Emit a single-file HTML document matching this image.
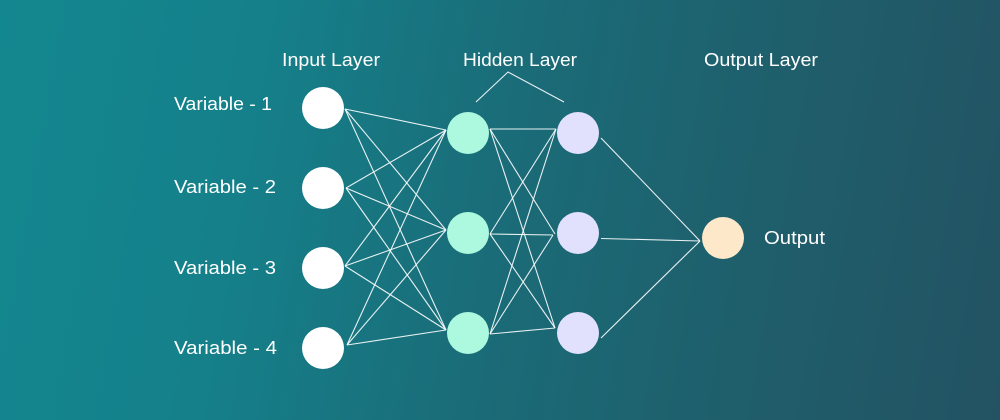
<!DOCTYPE html>
<html><head><meta charset="utf-8">
<style>
html,body{margin:0;padding:0;width:1000px;height:420px;overflow:hidden}
body{background:linear-gradient(100deg,#13878f 0%,#15808a 25%,#1a6c78 50%,#1f5e6b 75%,#235363 100%);}
svg{display:block}
text{font-family:"Liberation Sans",sans-serif;font-size:18px;fill:#ffffff}
</style></head>
<body>
<svg width="1000" height="420" viewBox="0 0 1000 420" xmlns="http://www.w3.org/2000/svg">
<g stroke="#ffffff" stroke-width="1.1" stroke-opacity="0.9" fill="none">
<!-- input -> hidden1 -->
<line x1="345" y1="109" x2="446" y2="130"/>
<line x1="345" y1="109" x2="446" y2="230"/>
<line x1="345" y1="109" x2="446" y2="330"/>
<line x1="346" y1="188" x2="446" y2="130"/>
<line x1="346" y1="188" x2="446" y2="230"/>
<line x1="346" y1="188" x2="446" y2="330"/>
<line x1="345" y1="266" x2="446" y2="130"/>
<line x1="345" y1="266" x2="446" y2="230"/>
<line x1="345" y1="266" x2="446" y2="330"/>
<line x1="347" y1="345" x2="446" y2="130"/>
<line x1="347" y1="345" x2="446" y2="230"/>
<line x1="347" y1="345" x2="446" y2="330"/>
<!-- hidden1 -> hidden2 -->
<line x1="490" y1="129" x2="556" y2="129"/>
<line x1="490" y1="129" x2="555" y2="234"/>
<line x1="490" y1="129" x2="555" y2="328"/>
<line x1="490" y1="234" x2="556" y2="129"/>
<line x1="490" y1="234" x2="553" y2="235"/>
<line x1="490" y1="234" x2="555" y2="328"/>
<line x1="490" y1="334" x2="556" y2="129"/>
<line x1="490" y1="334" x2="553" y2="235"/>
<line x1="490" y1="334" x2="555" y2="328"/>
<!-- hidden2 -> output -->
<line x1="601" y1="138" x2="700" y2="241"/>
<line x1="601" y1="238.5" x2="700" y2="241"/>
<line x1="601" y1="338" x2="700" y2="241"/>
<!-- bracket -->
<polyline points="476,102 508,72 564,102"/>
</g>
<g fill="#ffffff">
<circle cx="323" cy="108" r="21"/>
<circle cx="323" cy="188" r="21"/>
<circle cx="323" cy="268" r="21"/>
<circle cx="323" cy="348" r="21"/>
</g>
<g fill="#adf9df">
<circle cx="468" cy="133" r="21"/>
<circle cx="468" cy="233" r="21"/>
<circle cx="468" cy="333" r="21"/>
</g>
<g fill="#e1e1fd">
<circle cx="578" cy="133" r="21"/>
<circle cx="578" cy="233" r="21"/>
<circle cx="578" cy="333" r="21"/>
</g>
<circle cx="723" cy="238" r="21" fill="#fde8c9"/>

<text x="282" y="66" textLength="98" lengthAdjust="spacingAndGlyphs">Input Layer</text>
<text x="463" y="66" textLength="114" lengthAdjust="spacingAndGlyphs">Hidden Layer</text>
<text x="704" y="66" textLength="114" lengthAdjust="spacingAndGlyphs">Output Layer</text>
<text x="174" y="110" textLength="98" lengthAdjust="spacingAndGlyphs">Variable - 1</text>
<text x="174" y="193" textLength="102" lengthAdjust="spacingAndGlyphs">Variable - 2</text>
<text x="174" y="274" textLength="102" lengthAdjust="spacingAndGlyphs">Variable - 3</text>
<text x="174" y="354" textLength="103" lengthAdjust="spacingAndGlyphs">Variable - 4</text>
<text x="764" y="244" textLength="61" lengthAdjust="spacingAndGlyphs">Output</text>
</svg>
</body></html>
